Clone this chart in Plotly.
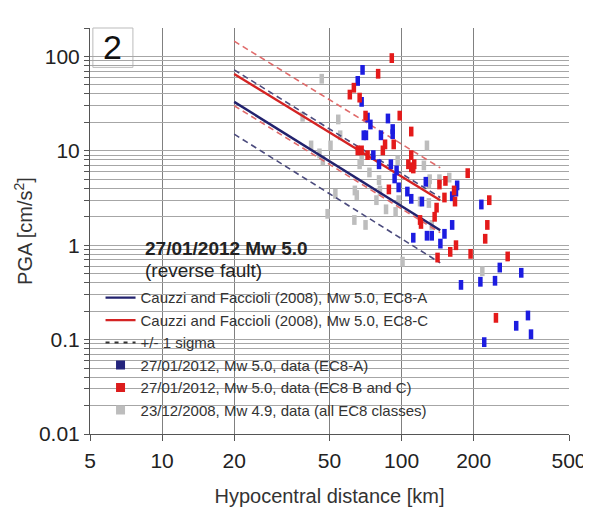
import plotly.graph_objects as go

# ---------------- data ----------------
model_dist = [20, 145]
ec8a_median = [33, 1.44]
ec8a_plus = [72, 3.2]
ec8a_minus = [15, 0.65]
ec8c_median = [65, 3.0]
ec8c_plus = [145, 6.6]
ec8c_minus = [30, 1.36]

blue_dist = [68.7, 65.6, 68.1, 72.1, 74.1, 87.7, 91.8, 91.8, 69.5, 71.0, 82.0, 76.2, 80.5, 90.2,
             95.3, 93.5, 97.2, 105.7, 109.7, 121.6, 126.2, 170.6, 168.7, 162.6, 215.3, 162.6,
             151.0, 133.6, 127.6, 111.9, 145.2, 257.0, 316.0, 245.5, 213.3, 177.0, 337.0, 301.0,
             347.0, 221.3]
blue_pga = [72, 55, 33, 22.5, 19, 22, 17, 15, 14.6, 14.6, 14.6, 9.0, 7.2, 7.2,
            6.2, 5.1, 4.1, 3.7, 3.1, 2.9, 4.7, 4.3, 3.7, 3.3, 2.7, 1.64,
            1.32, 1.26, 1.26, 1.2, 1.04, 0.58, 0.51, 0.42, 0.41, 0.38, 0.18, 0.14,
            0.114, 0.094]

red_dist = [91.0, 79.8, 63.2, 60.8, 66.8, 70.7, 98.2, 109.7, 85.3, 92.7, 83.5, 65.6, 68.1, 72.1,
            109.7, 106.7, 112.9, 109.7, 111.9, 188.8, 143.9, 152.4, 165.6, 151.0, 167.1, 140.0,
            137.4, 119.4, 120.5, 88.5, 232.3, 228.0, 223.4, 168.7, 159.6, 194.1, 141.3, 277.3,
            247.7]
red_pga = [96, 65.5, 46.6, 39.4, 36.6, 23.6, 23.6, 16.0, 11.7, 11.7, 10.1, 10.1, 10.1, 9.0,
           9.0, 7.2, 7.2, 6.7, 6.5, 5.8, 4.4, 4.8, 3.8, 3.2, 2.9, 2.5,
           2.0, 1.85, 1.68, 3.9, 3.0, 1.64, 1.17, 1.0, 0.85, 0.81, 0.74, 0.76,
           0.17]

gray_dist = [46.4, 54.4, 38.6, 41.9, 50.5, 45.4, 55.4, 127.6, 96.3, 46.9, 68.1, 73.4, 66.8, 63.8,
             65.0, 52.9, 49.1, 63.5, 70.7, 86.1, 94.4, 80.5, 81.2, 78.5, 100.9, 217.3, 130.0,
             133.6, 158.1, 143.9, 131.0, 123.9, 130.0, 119.4, 97.2]
gray_pga = [58, 21.5, 23, 11.4, 11.4, 9.4, 14.6, 11.4, 7.9, 7.9, 7.9, 5.9, 7.2, 3.8,
            3.4, 3.5, 2.15, 1.85, 1.64, 2.4, 2.25, 4.9, 3.8, 3.0, 0.67, 0.53, 2.8,
            1.64, 5.2, 5.0, 5.0, 7.0, 4.5, 2.9, 3.0]

x_ticks = [5, 10, 20, 50, 100, 200, 500]
x_ticktext = ["5", "10", "20", "50", "100", "200", "500"]
y_decade_labels = {0.01: "0.01", 0.1: "0.1", 1: "1", 10: "10", 100: "100"}

legend_names = [
    "Cauzzi and Faccioli (2008), Mw 5.0, EC8-A",
    "Cauzzi and Faccioli (2008), Mw 5.0, EC8-C",
    "+/- 1 sigma",
    "27/01/2012, Mw 5.0, data (EC8-A)",
    "27/01/2012, Mw 5.0, data (EC8 B and C)",
    "23/12/2008, Mw 4.9, data (all EC8 classes)",
]

# ---------------- styles ----------------
NAVY = "#22226e"
NAVY_DASH = "#4b4b7d"
RED = "#d42323"
RED_DASH = "#e06a6a"
BLUE_PT = "#1c1ce0"
RED_PT = "#e41a1a"
GRAY_PT = "#bdbdbd"
FONT = "Liberation Sans, Arial, Helvetica, sans-serif"

# y tick values: every 1..9 x decade
y_tickvals, y_ticktext = [], []
for k in [-2, -1, 0, 1]:
    for m in range(1, 10):
        v = round(m * 10 ** k, 6)
        y_tickvals.append(v)
        y_ticktext.append(y_decade_labels.get(v, ""))
y_tickvals += [100, 200]
y_ticktext += ["100", ""]

fig = go.Figure()

# gray 2008 data (behind)
fig.add_trace(go.Scatter(x=gray_dist, y=gray_pga, mode="markers", showlegend=False,
                         marker=dict(symbol="line-ns", size=7, color=GRAY_PT,
                                     line=dict(color=GRAY_PT, width=4.5))))

# model lines
def add_line(y, color, width, dash):
    fig.add_trace(go.Scatter(x=model_dist, y=y, mode="lines", showlegend=False,
                             line=dict(color=color, width=width, dash=dash)))

add_line(ec8c_plus, RED_DASH, 1.6, "6px,4px")
add_line(ec8c_minus, RED_DASH, 1.6, "6px,4px")
add_line(ec8a_plus, NAVY_DASH, 1.6, "6px,4px")
add_line(ec8a_minus, NAVY_DASH, 1.6, "6px,4px")
add_line(ec8c_median, RED, 2.4, "solid")
add_line(ec8a_median, NAVY, 2.4, "solid")

# 2012 data
fig.add_trace(go.Scatter(x=blue_dist, y=blue_pga, mode="markers", showlegend=False,
                         marker=dict(symbol="line-ns", size=7, color=BLUE_PT,
                                     line=dict(color=BLUE_PT, width=4.5))))
fig.add_trace(go.Scatter(x=red_dist, y=red_pga, mode="markers", showlegend=False,
                         marker=dict(symbol="line-ns", size=7, color=RED_PT,
                                     line=dict(color=RED_PT, width=4.5))))

# legend-only entries
legend_styles = [
    dict(mode="lines", line=dict(color=NAVY, width=2.2)),
    dict(mode="lines", line=dict(color=RED, width=2.2)),
    dict(mode="lines", line=dict(color="#333333", width=2, dash="4px,5px")),
    dict(mode="markers", marker=dict(symbol="square", size=9, color="#24247c")),
    dict(mode="markers", marker=dict(symbol="square", size=9, color="#dc1c1c")),
    dict(mode="markers", marker=dict(symbol="square", size=9, color="#bdbdbd")),
]
for i, (name, st) in enumerate(zip(legend_names, legend_styles)):
    fig.add_trace(go.Scatter(x=[None], y=[None], name=name, legendgroup=f"g{i}", **st))

fig.update_layout(
    width=591, height=507,
    margin=dict(l=82, r=18, t=20, b=78),
    paper_bgcolor="white", plot_bgcolor="white",
    font=dict(family=FONT, color="#222222"),
    showlegend=True,
    legend=dict(x=0.022, y=0.376, xanchor="left", yanchor="top",
                bgcolor="rgba(0,0,0,0)", borderwidth=0,
                font=dict(size=15, color="#333333", family=FONT),
                traceorder="normal", tracegroupgap=1),
    xaxis=dict(type="log", range=[0.698969, 2.698972],
               tickvals=x_ticks, ticktext=x_ticktext,
               showgrid=True, gridcolor="#808080", gridwidth=1,
               showline=True, linecolor="#555555", linewidth=1,
               ticks="outside", ticklen=6, tickcolor="#555555",
               tickfont=dict(size=21, color="#222222"),
               ticklabelstandoff=2, ticklabeloverflow="allow",
               zeroline=False,
               title=dict(text="Hypocentral distance [km]", font=dict(size=20, color="#333333"),
                          standoff=17)),
    yaxis=dict(type="log", range=[-2, 2.30103],
               tickvals=y_tickvals, ticktext=y_ticktext,
               showgrid=True, gridcolor="#a6a6a6", gridwidth=1,
               showline=True, linecolor="#555555", linewidth=1,
               ticks="outside", ticklen=5, tickcolor="#555555",
               tickfont=dict(size=21, color="#222222"),
               zeroline=False,
               title=dict(text="PGA [cm/s<sup>2</sup>]", font=dict(size=20, color="#333333"),
                          standoff=0)),
    shapes=[
        # white legend background hiding the gridlines
        dict(type="rect", xref="paper", yref="paper", x0=0.002, x1=0.481, y0=0.36, y1=0.4956,
             fillcolor="white", line=dict(width=0), layer="between"),
        dict(type="rect", xref="paper", yref="paper", x0=0.002, x1=0.747, y0=0.001, y1=0.37,
             fillcolor="white", line=dict(width=0), layer="between"),
        # panel number box
        dict(type="rect", xref="paper", yref="paper", x0=0.006, x1=0.0896, y0=0.903, y1=1.0,
             fillcolor="white", line=dict(color="#bbbbbb", width=1), layer="between"),
    ],
    annotations=[
        dict(text="2", xref="paper", yref="paper", x=0.048, y=0.952, showarrow=False,
             font=dict(size=34, color="#111111", family=FONT), xanchor="center", yanchor="middle"),
        dict(text="<b>27/01/2012 Mw 5.0</b>", xref="paper", yref="paper", x=0.11, y=0.456,
             showarrow=False, xanchor="left", yanchor="middle",
             font=dict(size=19, color="#222222", family=FONT)),
        dict(text="(reverse fault)", xref="paper", yref="paper", x=0.11, y=0.402,
             showarrow=False, xanchor="left", yanchor="middle",
             font=dict(size=19, color="#222222", family=FONT)),
    ],
)

fig.write_html("out.html")
